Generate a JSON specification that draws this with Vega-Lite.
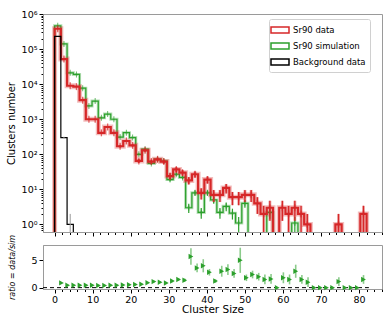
{
  "$schema": "https://vega.github.io/schema/vega-lite/v6.json",
  "padding": {"left": 5, "top": 8, "right": 10, "bottom": 2},
  "bounds": "flush",
  "spacing": 13,
  "config": {
    "font": "DejaVu Sans",
    "view": {"stroke": "#9a9a9a", "strokeWidth": 1},
    "axis": {"domainColor": "#9a9a9a", "tickColor": "#000000", "labelColor": "#000000", "titleColor": "#000000", "labelFontSize": 9, "titleFontSize": 10, "titleFontWeight": "normal", "grid": false, "tickWidth": 1}
  },
  "datasets": {
    "hist": [
      {"i": -1, "x": 0.0, "d": 0.01, "s": 0.01, "b": 0.01},
      {"i": 0, "x": 0.0, "d": 380000, "s": 460000, "b": 230000},
      {"i": 1, "x": 1.64, "d": 52000, "s": 140000, "b": 300},
      {"i": 2, "x": 3.28, "d": 9000, "s": 21000, "b": 1},
      {"i": 3, "x": 4.92, "d": 8500, "s": 19000, "b": 0.01},
      {"i": 4, "x": 6.56, "d": 3500, "s": 7700, "b": 0.01},
      {"i": 5, "x": 8.2, "d": 1000, "s": 2400, "b": 0.01},
      {"i": 6, "x": 9.84, "d": 1000, "s": 3300, "b": 0.01},
      {"i": 7, "x": 11.48, "d": 410, "s": 1100, "b": 0.01},
      {"i": 8, "x": 13.12, "d": 600, "s": 1400, "b": 0.01},
      {"i": 9, "x": 14.76, "d": 410, "s": 1000, "b": 0.01},
      {"i": 10, "x": 16.4, "d": 170, "s": 310, "b": 0.01},
      {"i": 11, "x": 18.04, "d": 240, "s": 415, "b": 0.01},
      {"i": 12, "x": 19.68, "d": 180, "s": 300, "b": 0.01},
      {"i": 13, "x": 21.32, "d": 65, "s": 100, "b": 0.01},
      {"i": 14, "x": 22.96, "d": 130, "s": 140, "b": 0.01},
      {"i": 15, "x": 24.6, "d": 62, "s": 55, "b": 0.01},
      {"i": 16, "x": 26.24, "d": 72, "s": 72, "b": 0.01},
      {"i": 17, "x": 27.88, "d": 62, "s": 64, "b": 0.01},
      {"i": 18, "x": 29.52, "d": 24, "s": 19, "b": 0.01},
      {"i": 19, "x": 31.16, "d": 37, "s": 27, "b": 0.01},
      {"i": 20, "x": 32.8, "d": 30, "s": 22, "b": 0.01},
      {"i": 21, "x": 34.44, "d": 18, "s": 3, "b": 0.01},
      {"i": 22, "x": 36.08, "d": 27, "s": 8, "b": 0.01},
      {"i": 23, "x": 37.72, "d": 8, "s": 2.2, "b": 0.01},
      {"i": 24, "x": 39.36, "d": 19, "s": 8, "b": 0.01},
      {"i": 25, "x": 41.0, "d": 7, "s": 5, "b": 0.01},
      {"i": 26, "x": 42.64, "d": 7, "s": 2.2, "b": 0.01},
      {"i": 27, "x": 44.28, "d": 11, "s": 3.3, "b": 0.01},
      {"i": 28, "x": 45.92, "d": 6, "s": 2.1, "b": 0.01},
      {"i": 29, "x": 47.56, "d": 6, "s": 1.1, "b": 0.01},
      {"i": 30, "x": 49.2, "d": 7, "s": 4, "b": 0.01},
      {"i": 31, "x": 50.84, "d": 7, "s": 0.01, "b": 0.01},
      {"i": 32, "x": 52.48, "d": 4, "s": 0.01, "b": 0.01},
      {"i": 33, "x": 54.12, "d": 2, "s": 0.01, "b": 0.01},
      {"i": 34, "x": 55.76, "d": 3, "s": 2.2, "b": 0.01},
      {"i": 35, "x": 57.4, "d": 0.01, "s": 0.01, "b": 0.01},
      {"i": 36, "x": 59.04, "d": 3, "s": 0.01, "b": 0.01},
      {"i": 37, "x": 60.68, "d": 2, "s": 0.01, "b": 0.01},
      {"i": 38, "x": 62.32, "d": 3, "s": 1.1, "b": 0.01},
      {"i": 39, "x": 63.96, "d": 2, "s": 0.01, "b": 0.01},
      {"i": 40, "x": 65.6, "d": 1, "s": 0.01, "b": 0.01},
      {"i": 41, "x": 67.24, "d": 0.01, "s": 0.01, "b": 0.01},
      {"i": 42, "x": 68.88, "d": 0.01, "s": 0.01, "b": 0.01},
      {"i": 43, "x": 70.52, "d": 0.01, "s": 0.01, "b": 0.01},
      {"i": 44, "x": 72.16, "d": 0.01, "s": 0.01, "b": 0.01},
      {"i": 45, "x": 73.8, "d": 1, "s": 0.01, "b": 0.01},
      {"i": 46, "x": 75.44, "d": 0.01, "s": 0.01, "b": 0.01},
      {"i": 47, "x": 77.08, "d": 0.01, "s": 0.01, "b": 0.01},
      {"i": 48, "x": 78.72, "d": 0.01, "s": 0.01, "b": 0.01},
      {"i": 49, "x": 80.36, "d": 2, "s": 0.01, "b": 0.01},
      {"i": 50, "x": 82.0, "d": 2, "s": 0.01, "b": 0.01},
      {"i": 51, "x": 82.0, "d": 0.01, "s": 0.01, "b": 0.01}
    ],
    "pts": [
      {"series": "d", "x": 0.82, "n": 380000, "lo": 379384, "hi": 380616},
      {"series": "d", "x": 2.46, "n": 52000, "lo": 51772, "hi": 52228},
      {"series": "d", "x": 4.1, "n": 9000, "lo": 8905, "hi": 9095},
      {"series": "d", "x": 5.74, "n": 8500, "lo": 8408, "hi": 8592},
      {"series": "d", "x": 7.38, "n": 3500, "lo": 3441, "hi": 3559},
      {"series": "d", "x": 9.02, "n": 1000, "lo": 968, "hi": 1032},
      {"series": "d", "x": 10.66, "n": 1000, "lo": 968, "hi": 1032},
      {"series": "d", "x": 12.3, "n": 410, "lo": 390, "hi": 430},
      {"series": "d", "x": 13.94, "n": 600, "lo": 575, "hi": 625},
      {"series": "d", "x": 15.58, "n": 410, "lo": 390, "hi": 430},
      {"series": "d", "x": 17.22, "n": 170, "lo": 157, "hi": 183},
      {"series": "d", "x": 18.86, "n": 240, "lo": 224, "hi": 256},
      {"series": "d", "x": 20.5, "n": 180, "lo": 167, "hi": 193},
      {"series": "d", "x": 22.14, "n": 65, "lo": 57, "hi": 73},
      {"series": "d", "x": 23.78, "n": 130, "lo": 119, "hi": 141},
      {"series": "d", "x": 25.42, "n": 62, "lo": 54, "hi": 70},
      {"series": "d", "x": 27.06, "n": 72, "lo": 63.5, "hi": 80.5},
      {"series": "d", "x": 28.7, "n": 62, "lo": 54, "hi": 70},
      {"series": "d", "x": 30.34, "n": 24, "lo": 19.1, "hi": 28.9},
      {"series": "d", "x": 31.98, "n": 37, "lo": 30.9, "hi": 43.1},
      {"series": "d", "x": 33.62, "n": 30, "lo": 24.5, "hi": 35.5},
      {"series": "d", "x": 35.26, "n": 18, "lo": 13.8, "hi": 22.2},
      {"series": "d", "x": 36.9, "n": 27, "lo": 21.8, "hi": 32.2},
      {"series": "d", "x": 38.54, "n": 8, "lo": 5.17, "hi": 10.83},
      {"series": "d", "x": 40.18, "n": 19, "lo": 14.6, "hi": 23.4},
      {"series": "d", "x": 41.82, "n": 7, "lo": 4.35, "hi": 9.65},
      {"series": "d", "x": 43.46, "n": 7, "lo": 4.35, "hi": 9.65},
      {"series": "d", "x": 45.1, "n": 11, "lo": 7.68, "hi": 14.32},
      {"series": "d", "x": 46.74, "n": 6, "lo": 3.55, "hi": 8.45},
      {"series": "d", "x": 48.38, "n": 6, "lo": 3.55, "hi": 8.45},
      {"series": "d", "x": 50.02, "n": 7, "lo": 4.35, "hi": 9.65},
      {"series": "d", "x": 51.66, "n": 7, "lo": 4.35, "hi": 9.65},
      {"series": "d", "x": 53.3, "n": 4, "lo": 2, "hi": 6},
      {"series": "d", "x": 54.94, "n": 2, "lo": 0.59, "hi": 3.41},
      {"series": "d", "x": 56.58, "n": 3, "lo": 1.27, "hi": 4.73},
      {"series": "d", "x": 59.86, "n": 3, "lo": 1.27, "hi": 4.73},
      {"series": "d", "x": 61.5, "n": 2, "lo": 0.59, "hi": 3.41},
      {"series": "d", "x": 63.14, "n": 3, "lo": 1.27, "hi": 4.73},
      {"series": "d", "x": 64.78, "n": 2, "lo": 0.59, "hi": 3.41},
      {"series": "d", "x": 66.42, "n": 1, "lo": 0.01, "hi": 2},
      {"series": "d", "x": 74.62, "n": 1, "lo": 0.01, "hi": 2},
      {"series": "d", "x": 81.18, "n": 2, "lo": 0.59, "hi": 3.41},
      {"series": "s", "x": 0.82, "n": 460000, "lo": 459661, "hi": 460339},
      {"series": "s", "x": 2.46, "n": 140000, "lo": 139813, "hi": 140187},
      {"series": "s", "x": 4.1, "n": 21000, "lo": 20928, "hi": 21072},
      {"series": "s", "x": 5.74, "n": 19000, "lo": 18931, "hi": 19069},
      {"series": "s", "x": 7.38, "n": 7700, "lo": 7656, "hi": 7744},
      {"series": "s", "x": 9.02, "n": 2400, "lo": 2376, "hi": 2424},
      {"series": "s", "x": 10.66, "n": 3300, "lo": 3271, "hi": 3329},
      {"series": "s", "x": 12.3, "n": 1100, "lo": 1083, "hi": 1117},
      {"series": "s", "x": 13.94, "n": 1400, "lo": 1381, "hi": 1419},
      {"series": "s", "x": 15.58, "n": 1000, "lo": 984, "hi": 1016},
      {"series": "s", "x": 17.22, "n": 310, "lo": 301, "hi": 319},
      {"series": "s", "x": 18.86, "n": 415, "lo": 405, "hi": 425},
      {"series": "s", "x": 20.5, "n": 300, "lo": 291, "hi": 309},
      {"series": "s", "x": 22.14, "n": 100, "lo": 95, "hi": 105},
      {"series": "s", "x": 23.78, "n": 140, "lo": 134, "hi": 146},
      {"series": "s", "x": 25.42, "n": 55, "lo": 51.3, "hi": 58.7},
      {"series": "s", "x": 27.06, "n": 72, "lo": 67.8, "hi": 76.2},
      {"series": "s", "x": 28.7, "n": 64, "lo": 60, "hi": 68},
      {"series": "s", "x": 30.34, "n": 19, "lo": 16.8, "hi": 21.2},
      {"series": "s", "x": 31.98, "n": 27, "lo": 24.4, "hi": 29.6},
      {"series": "s", "x": 33.62, "n": 22, "lo": 19.7, "hi": 24.3},
      {"series": "s", "x": 35.26, "n": 3, "lo": 2.13, "hi": 3.87},
      {"series": "s", "x": 36.9, "n": 8, "lo": 6.6, "hi": 9.4},
      {"series": "s", "x": 38.54, "n": 2.2, "lo": 1.46, "hi": 2.94},
      {"series": "s", "x": 40.18, "n": 8, "lo": 6.6, "hi": 9.4},
      {"series": "s", "x": 41.82, "n": 5, "lo": 3.9, "hi": 6.1},
      {"series": "s", "x": 43.46, "n": 2.2, "lo": 1.46, "hi": 2.94},
      {"series": "s", "x": 45.1, "n": 3.3, "lo": 2.4, "hi": 4.2},
      {"series": "s", "x": 46.74, "n": 2.1, "lo": 1.38, "hi": 2.82},
      {"series": "s", "x": 48.38, "n": 1.1, "lo": 0.58, "hi": 1.62},
      {"series": "s", "x": 50.02, "n": 4, "lo": 3, "hi": 5},
      {"series": "s", "x": 56.58, "n": 2.2, "lo": 1.46, "hi": 2.94},
      {"series": "s", "x": 63.14, "n": 1.1, "lo": 0.58, "hi": 1.62},
      {"series": "b", "x": 2.46, "n": 300, "lo": 283, "hi": 317},
      {"series": "b", "x": 4.1, "n": 1, "lo": 0.01, "hi": 2}
    ],
    "ratio": [
      {"x": 1.81, "y": 0.87, "e": 0.02}, {"x": 3.43, "y": 0.44, "e": 0.01},
      {"x": 5.05, "y": 0.43, "e": 0.01}, {"x": 6.67, "y": 0.45, "e": 0.01},
      {"x": 8.29, "y": 0.45, "e": 0.02}, {"x": 9.91, "y": 0.42, "e": 0.03},
      {"x": 11.53, "y": 0.38, "e": 0.03}, {"x": 13.15, "y": 0.38, "e": 0.03},
      {"x": 14.77, "y": 0.42, "e": 0.03}, {"x": 16.39, "y": 0.42, "e": 0.03},
      {"x": 18.01, "y": 0.5, "e": 0.05}, {"x": 19.63, "y": 0.52, "e": 0.05},
      {"x": 21.25, "y": 0.58, "e": 0.06}, {"x": 22.87, "y": 0.63, "e": 0.1},
      {"x": 24.49, "y": 0.9, "e": 0.08}, {"x": 26.11, "y": 1.1, "e": 0.15},
      {"x": 27.73, "y": 1.0, "e": 0.15}, {"x": 29.35, "y": 0.85, "e": 0.15},
      {"x": 30.97, "y": 1.2, "e": 0.2}, {"x": 32.59, "y": 1.5, "e": 0.2},
      {"x": 34.21, "y": 1.35, "e": 0.3}, {"x": 35.83, "y": 5.7, "e": 1.5},
      {"x": 37.45, "y": 3.6, "e": 0.8}, {"x": 39.07, "y": 4.0, "e": 1.2},
      {"x": 40.69, "y": 2.8, "e": 0.6}, {"x": 42.31, "y": 1.2, "e": 0.3},
      {"x": 43.93, "y": 3.0, "e": 1.0}, {"x": 45.55, "y": 3.3, "e": 1.0},
      {"x": 47.17, "y": 2.6, "e": 0.8}, {"x": 48.79, "y": 5.0, "e": 2.3},
      {"x": 50.41, "y": 1.8, "e": 0.6}, {"x": 52.03, "y": 2.4, "e": 0.7},
      {"x": 53.65, "y": 2.0, "e": 0.7}, {"x": 55.27, "y": 1.5, "e": 0.9},
      {"x": 56.89, "y": 1.6, "e": 0.9}, {"x": 58.51, "y": 0, "e": 0},
      {"x": 60.13, "y": 1.8, "e": 1.0}, {"x": 61.75, "y": 1.5, "e": 0.9},
      {"x": 63.37, "y": 3.0, "e": 1.2}, {"x": 64.99, "y": 1.5, "e": 0.8},
      {"x": 66.61, "y": 1.0, "e": 0.9}, {"x": 68.23, "y": 0, "e": 0},
      {"x": 69.85, "y": 0, "e": 0}, {"x": 71.47, "y": 0, "e": 0},
      {"x": 73.09, "y": 0, "e": 0}, {"x": 74.71, "y": 1.1, "e": 0.8},
      {"x": 76.33, "y": 0, "e": 0}, {"x": 77.95, "y": 0, "e": 0},
      {"x": 79.57, "y": 0, "e": 0}, {"x": 81.19, "y": 1.5, "e": 0.8}
    ],
    "zero": [{"x": -3.05, "x2": 82.6, "y": 0}]
  },
  "vconcat": [
    {
      "width": 339,
      "height": 218,
      "encoding": {
        "x": {
          "field": "x", "type": "quantitative",
          "scale": {"domain": [-3.05, 86.05], "nice": false, "zero": false},
          "axis": {
            "values": [0,2,4,6,8,10,12,14,16,18,20,22,24,26,28,30,32,34,36,38,40,42,44,46,48,50,52,54,56,58,60,62,64,66,68,70,72,74,76,78,80,82,84,86],
            "labels": false, "title": null,
            "tickSize": {"condition": {"test": "datum.value % 10 == 0", "value": 4}, "value": 2.5}
          }
        },
        "y": {
          "field": "n", "type": "quantitative",
          "scale": {"type": "log", "domain": [0.61, 1000000], "nice": false},
          "axis": {
            "values": [0.7,0.8,0.9,1,2,3,4,5,6,7,8,9,10,20,30,40,50,60,70,80,90,100,200,300,400,500,600,700,800,900,1000,2000,3000,4000,5000,6000,7000,8000,9000,10000,20000,30000,40000,50000,60000,70000,80000,90000,100000,200000,300000,400000,500000,600000,700000,800000,900000,1000000],
            "labelExpr": "datum.value == 1 ? '10⁰' : datum.value == 10 ? '10¹' : datum.value == 100 ? '10²' : datum.value == 1000 ? '10³' : datum.value == 10000 ? '10⁴' : datum.value == 100000 ? '10⁵' : datum.value == 1000000 ? '10⁶' : ''",
            "tickSize": {"condition": {"test": "indexof([1,10,100,1000,10000,100000,1000000], datum.value) >= 0", "value": 4}, "value": 2},
            "labelFontSize": 9.5,
            "labelPadding": 2,
            "title": "Clusters number",
            "titlePadding": 3,
            "minExtent": 24,
            "maxExtent": 24
          }
        }
      },
      "layer": [
        {
          "data": {"name": "hist"},
          "transform": [{"fold": ["d", "s", "b"], "as": ["series", "n"]}, {"filter": "datum.series == 's'"}],
          "mark": {"type": "line", "interpolate": "step-after", "clip": true, "strokeWidth": 3, "opacity": 0.35, "color": "#2ca02c"},
          "encoding": {"order": {"field": "i", "type": "quantitative"}}
        },
        {
          "data": {"name": "hist"},
          "transform": [{"fold": ["d", "s", "b"], "as": ["series", "n"]}, {"filter": "datum.series == 's'"}],
          "mark": {"type": "line", "interpolate": "step-after", "clip": true, "strokeWidth": 1.2},
          "encoding": {
            "order": {"field": "i", "type": "quantitative"},
            "color": {
              "field": "series", "type": "nominal",
              "scale": {"domain": ["d", "s", "b"], "range": ["#d62728", "#2ca02c", "#000000"]},
              "legend": {
                "orient": "none", "legendX": 226, "legendY": 5, "title": null,
                "labelExpr": "datum.label == 'd' ? 'Sr90 data' : datum.label == 's' ? 'Sr90 simulation' : 'Background data'",
                "symbolType": "M-1.5,-0.5H1.5V0.5H-1.5Z", "symbolSize": 144, "symbolStrokeWidth": 1.5,
                "labelFontSize": 8.5, "labelFont": "DejaVu Sans", "labelColor": "#000000",
                "fillColor": "#ffffff", "strokeColor": "#d0d0d0", "padding": 4, "rowPadding": 3, "cornerRadius": 2, "labelOffset": 6
              }
            }
          }
        },
        {
          "data": {"name": "pts"},
          "transform": [{"filter": "datum.series == 's'"}],
          "mark": {"type": "rule", "clip": true, "strokeWidth": 1.2, "color": "#2ca02c"},
          "encoding": {"y": {"field": "lo", "type": "quantitative"}, "y2": {"field": "hi"}}
        },
        {
          "data": {"name": "pts"},
          "transform": [{"filter": "datum.series == 's'"}],
          "mark": {"type": "tick", "orient": "vertical", "clip": true, "size": 6, "thickness": 1, "color": "#2ca02c"}
        },
        {
          "data": {"name": "hist"},
          "transform": [{"fold": ["d", "s", "b"], "as": ["series", "n"]}, {"filter": "datum.series == 'd'"}],
          "mark": {"type": "line", "interpolate": "step-after", "clip": true, "strokeWidth": 5, "opacity": 0.3, "color": "#d62728"},
          "encoding": {"order": {"field": "i", "type": "quantitative"}}
        },
        {
          "data": {"name": "hist"},
          "transform": [{"fold": ["d", "s", "b"], "as": ["series", "n"]}, {"filter": "datum.series == 'd'"}],
          "mark": {"type": "line", "interpolate": "step-after", "clip": true, "strokeWidth": 2.2},
          "encoding": {
            "order": {"field": "i", "type": "quantitative"},
            "color": {"field": "series", "type": "nominal", "scale": {"domain": ["d", "s", "b"], "range": ["#d62728", "#2ca02c", "#000000"]}}
          }
        },
        {
          "data": {"name": "pts"},
          "transform": [{"filter": "datum.series == 'd'"}],
          "mark": {"type": "rule", "clip": true, "strokeWidth": 3, "opacity": 0.35, "color": "#d62728"},
          "encoding": {"y": {"field": "lo", "type": "quantitative"}, "y2": {"field": "hi"}}
        },
        {
          "data": {"name": "pts"},
          "transform": [{"filter": "datum.series == 'd'"}],
          "mark": {"type": "rule", "clip": true, "strokeWidth": 1.3, "color": "#d62728"},
          "encoding": {"y": {"field": "lo", "type": "quantitative"}, "y2": {"field": "hi"}}
        },
        {
          "data": {"name": "pts"},
          "transform": [{"filter": "datum.series == 'd'"}],
          "mark": {"type": "tick", "orient": "vertical", "clip": true, "size": 7, "thickness": 1.3, "color": "#d62728"}
        },
        {
          "data": {"name": "hist"},
          "transform": [{"fold": ["d", "s", "b"], "as": ["series", "n"]}, {"filter": "datum.series == 'b'"}],
          "mark": {"type": "line", "interpolate": "step-after", "clip": true, "strokeWidth": 1.2},
          "encoding": {
            "order": {"field": "i", "type": "quantitative"},
            "color": {"field": "series", "type": "nominal", "scale": {"domain": ["d", "s", "b"], "range": ["#d62728", "#2ca02c", "#000000"]}}
          }
        },
        {
          "data": {"name": "pts"},
          "transform": [{"filter": "datum.series == 'b'"}],
          "mark": {"type": "rule", "clip": true, "strokeWidth": 1, "color": "#999999"},
          "encoding": {"y": {"field": "lo", "type": "quantitative"}, "y2": {"field": "hi"}}
        }
      ]
    },
    {
      "width": 339,
      "height": 44,
      "encoding": {
        "x": {
          "field": "x", "type": "quantitative",
          "scale": {"domain": [-3.05, 86.05], "nice": false, "zero": false},
          "axis": {
            "values": [0,2,4,6,8,10,12,14,16,18,20,22,24,26,28,30,32,34,36,38,40,42,44,46,48,50,52,54,56,58,60,62,64,66,68,70,72,74,76,78,80,82,84,86],
            "labelExpr": "datum.value % 10 == 0 ? datum.label : ''",
            "tickSize": {"condition": {"test": "datum.value % 10 == 0", "value": 4}, "value": 2.5},
            "labelFontSize": 9.5, "labelPadding": 1,
            "title": "Cluster Size", "titleFontSize": 10.5, "titlePadding": 1
          }
        },
        "y": {
          "field": "y", "type": "quantitative",
          "scale": {"domain": [-0.25, 7.8], "nice": false, "zero": false},
          "axis": {
            "values": [0, 5], "tickSize": 4, "labelFontSize": 9.5, "labelPadding": 2,
            "title": "ratio = data/sim", "titleFontStyle": "italic", "titleFontSize": 8, "titlePadding": 3,
            "minExtent": 24, "maxExtent": 24
          }
        }
      },
      "layer": [
        {
          "data": {"name": "zero"},
          "mark": {"type": "rule", "strokeDash": [4, 3], "color": "#000000", "strokeWidth": 1},
          "encoding": {"x2": {"field": "x2"}}
        },
        {
          "data": {"name": "ratio"},
          "mark": {"type": "errorbar", "color": "#2ca02c", "opacity": 0.55, "thickness": 1.6},
          "encoding": {"yError": {"field": "e"}}
        },
        {
          "data": {"name": "ratio"},
          "mark": {"type": "point", "shape": "triangle-right", "filled": true, "color": "#2ca02c", "opacity": 1, "size": 30}
        }
      ]
    }
  ]
}
